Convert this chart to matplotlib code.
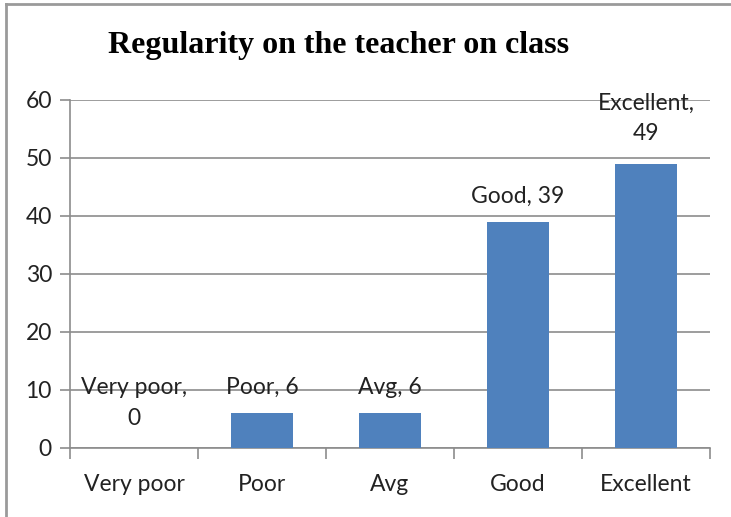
import matplotlib
matplotlib.use("Agg")
import matplotlib.pyplot as plt
from matplotlib.lines import Line2D

categories = ["Very poor", "Poor", "Avg", "Good", "Excellent"]
values = [0, 6, 6, 39, 49]
bar_labels = ["Very poor,\n0", "Poor, 6", "Avg, 6", "Good, 39", "Excellent,\n49"]
yticks = [0, 10, 20, 30, 40, 50, 60]
title = "Regularity on the teacher on class"

W, H = 731, 517
fig = plt.figure(figsize=(W / 100, H / 100), dpi=100)
fig.patch.set_facecolor("white")

# outer border lines (top and left)
fig.add_artist(Line2D([6 / W, 6 / W], [0, 1 - 4 / H], transform=fig.transFigure, color="#9a9a9a", lw=2))
fig.add_artist(Line2D([6 / W, 1], [1 - 4 / H, 1 - 4 / H], transform=fig.transFigure, color="#9a9a9a", lw=2))

left, right, top, bottom = 70, 710, 100, 448
ax = fig.add_axes([left / W, 1 - bottom / H, (right - left) / W, (bottom - top) / H])

font = "Lato"
fs = 16.5
x = list(range(len(categories)))
ax.bar(x, values, width=0.49, color="#4F81BD", zorder=3)
ax.set_xlim(-0.5, len(categories) - 0.5)
ax.set_ylim(0, 60)
ax.set_yticks(yticks)
ax.set_yticklabels([str(v) for v in yticks], fontsize=fs, family=font, color="#222222")
ax.yaxis.grid(True, color="#8c8c8c", lw=1.2, zorder=0)
ax.set_axisbelow(True)

ax.set_xticks(x)
ax.set_xticklabels(categories, fontsize=fs, family=font, color="#222222")
ax.tick_params(axis="x", length=0, pad=19)
ax.tick_params(axis="y", length=7, color="#8c8c8c", width=1.2, pad=6)
# category boundary ticks
ax.set_xticks([i - 0.5 for i in range(len(categories) + 1)], minor=True)
ax.tick_params(axis="x", which="minor", length=8, color="#8c8c8c", width=1.2)

for s in ["top", "right"]:
    ax.spines[s].set_visible(False)
for s in ["left", "bottom"]:
    ax.spines[s].set_color("#8c8c8c")
    ax.spines[s].set_linewidth(1.2)

for xi, v, lab in zip(x, values, bar_labels):
    off = 14 if "\n" in lab else 11
    ax.annotate(lab, (xi, v), xytext=(0, off), textcoords="offset points",
                ha="center", va="bottom", fontsize=fs, family=font, color="#222222",
                linespacing=1.55, zorder=5)

fig.text(339 / W, 1 - 46 / H, title, ha="center", va="center", fontsize=23,
         family="Liberation Serif", fontweight="bold", color="black")

fig.savefig("out.png", dpi=100)
